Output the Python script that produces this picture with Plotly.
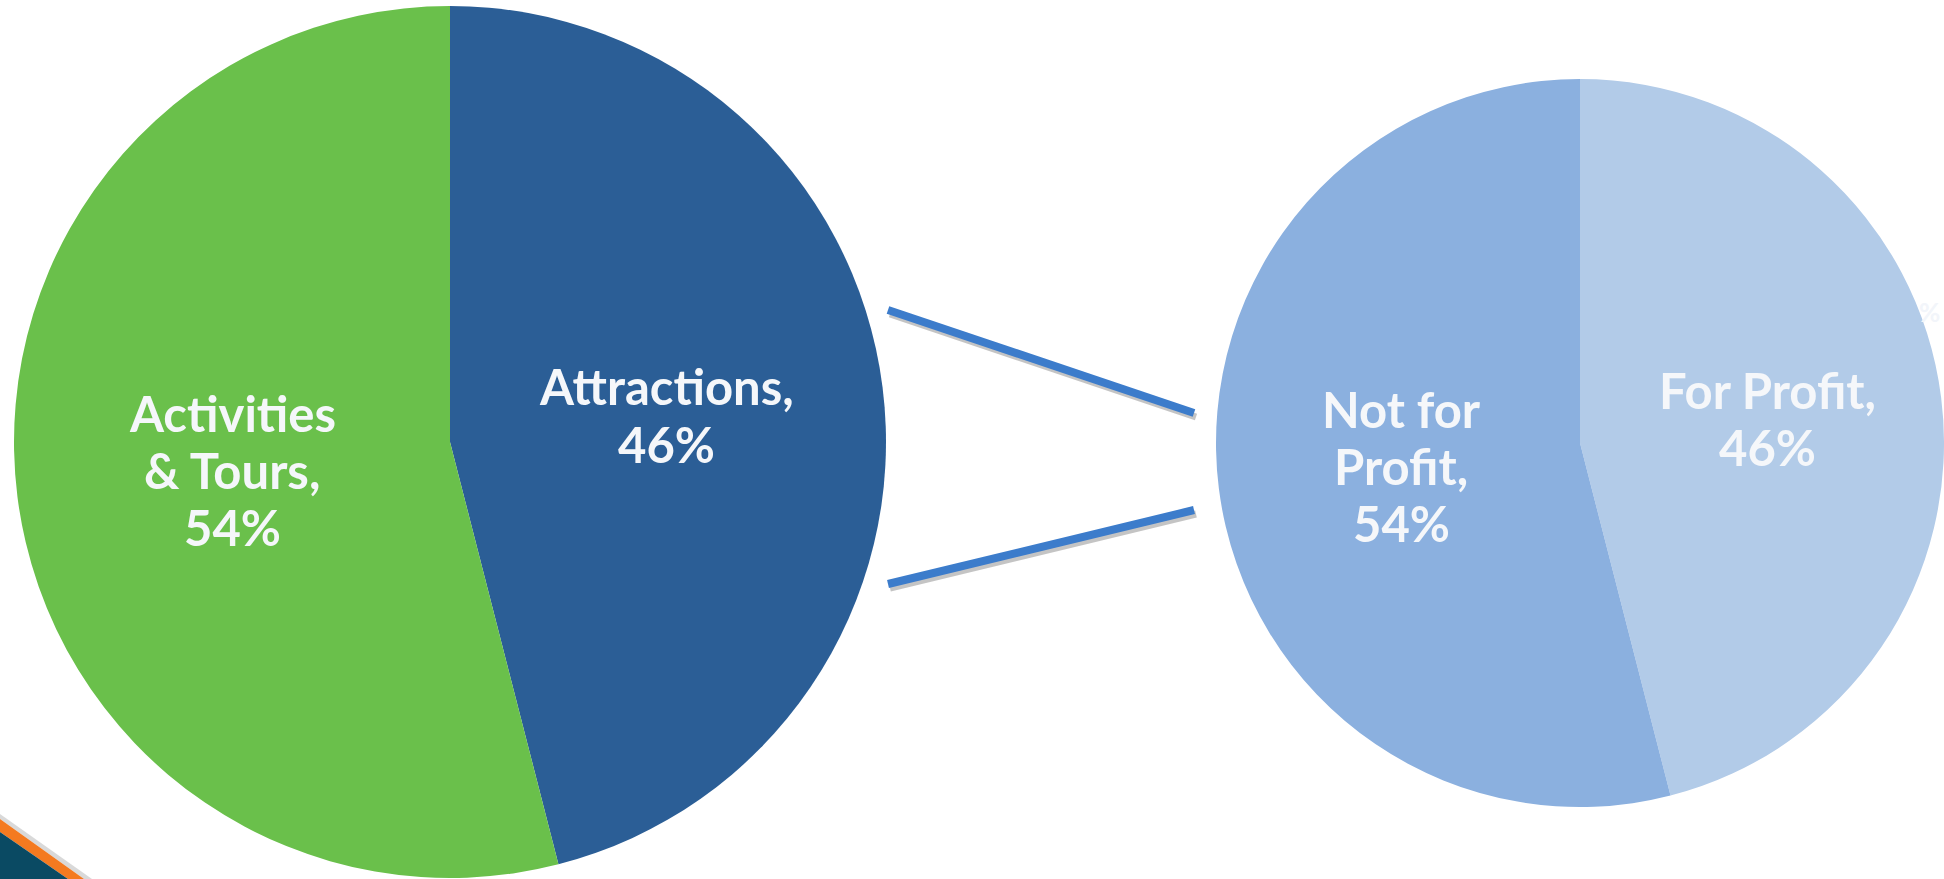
import plotly.graph_objects as go

# Sector split and the breakdown of the Attractions share
main_categories = ["Attractions", "Activities & Tours"]
main_shares = [46, 54]
main_colors = ["#2B5E96", "#6AC04B"]
main_name_lines = [["Attractions,"], ["Activities", "& Tours,"]]

sub_categories = ["For Profit", "Not for Profit"]
sub_shares = [46, 54]
sub_colors = ["#B2CBE8", "#8BB0DF"]
sub_name_lines = [["For Profit,"], ["Not for", "Profit,"]]

W, H = 1944, 879
FONT = "Lato"
TEXT_COLOR = "#F5F7FA"
FONT_SIZE = 49
LINE_PITCH = 57


def px(x):
    return x / W


def py(y):
    return 1 - y / H


fig = go.Figure()

fig.add_trace(go.Pie(
    labels=main_categories, values=main_shares,
    marker=dict(colors=main_colors, line=dict(width=0)),
    sort=False, direction="clockwise", rotation=0,
    textinfo="none", hoverinfo="label+percent", showlegend=False,
    domain=dict(x=[px(450 - 436), px(450 + 436)], y=[py(442 + 436), py(442 - 436)]),
))

fig.add_trace(go.Pie(
    labels=sub_categories, values=sub_shares,
    marker=dict(colors=sub_colors, line=dict(width=0)),
    sort=False, direction="clockwise", rotation=0,
    textinfo="none", hoverinfo="label+percent", showlegend=False,
    domain=dict(x=[px(1216), 1.0], y=[py(443 + 368), py(443 - 368)]),
))

annotations = []


def add_label(name_lines, value, cx, cy):
    lines = list(name_lines) + [f"{value}%"]
    n = len(lines)
    for i, line in enumerate(lines):
        y = cy + (i - (n - 1) / 2) * LINE_PITCH
        annotations.append(dict(
            x=px(cx), y=py(y), xref="paper", yref="paper",
            text=f"<b>{line}</b>", showarrow=False,
            xanchor="center", yanchor="middle",
            font=dict(family=FONT, size=FONT_SIZE, color=TEXT_COLOR),
        ))


# label anchor points (pixel centres of each text block)
main_label_pos = [(666, 415), (232, 470)]
sub_label_pos = [(1767, 418), (1401, 466)]

for lines, val, (cx, cy) in zip(main_name_lines, main_shares, main_label_pos):
    add_label(lines, val, cx, cy)
for lines, val, (cx, cy) in zip(sub_name_lines, sub_shares, sub_label_pos):
    add_label(lines, val, cx, cy)

shapes = []

# connector lines from the main pie to the breakdown pie, with a soft drop shadow
connectors = [((888, 310), (1194, 413)), ((888, 584), (1194, 510))]
for (x0, y0), (x1, y1) in connectors:
    shapes.append(dict(type="line", xref="paper", yref="paper",
                       x0=px(x0 + 2), y0=py(y0 + 4), x1=px(x1 + 2), y1=py(y1 + 4),
                       line=dict(color="rgba(60,60,60,0.3)", width=7)))
for (x0, y0), (x1, y1) in connectors:
    shapes.append(dict(type="line", xref="paper", yref="paper",
                       x0=px(x0), y0=py(y0), x1=px(x1), y1=py(y1),
                       line=dict(color="#3C7CCB", width=8)))


def poly(points):
    d = "M " + " L ".join(f"{px(x)},{py(y)}" for x, y in points) + " Z"
    return d


# corner decoration: dark band edged with orange
shapes.append(dict(type="path", xref="paper", yref="paper",
                   path=poly([(0, 814), (92, 879), (84, 879), (0, 819)]),
                   fillcolor="rgba(80,80,80,0.22)", line=dict(width=0)))
shapes.append(dict(type="path", xref="paper", yref="paper",
                   path=poly([(0, 819), (84, 879), (68, 879), (0, 832)]),
                   fillcolor="#F47A20", line=dict(width=0)))
shapes.append(dict(type="path", xref="paper", yref="paper",
                   path=poly([(0, 832), (68, 879), (0, 879)]),
                   fillcolor="#0A4A63", line=dict(width=0)))

annotations.append(dict(
    x=px(1942), y=py(312), xref="paper", yref="paper", text="<b>%</b>",
    showarrow=False, xanchor="right", yanchor="middle",
    font=dict(family=FONT, size=26, color="#F2F5FA"),
))

fig.update_layout(
    width=W, height=H,
    margin=dict(l=0, r=0, t=0, b=0),
    paper_bgcolor="white", plot_bgcolor="white",
    shapes=shapes, annotations=annotations,
    showlegend=False,
)

fig.write_html("out.html", config={"displayModeBar": False})
